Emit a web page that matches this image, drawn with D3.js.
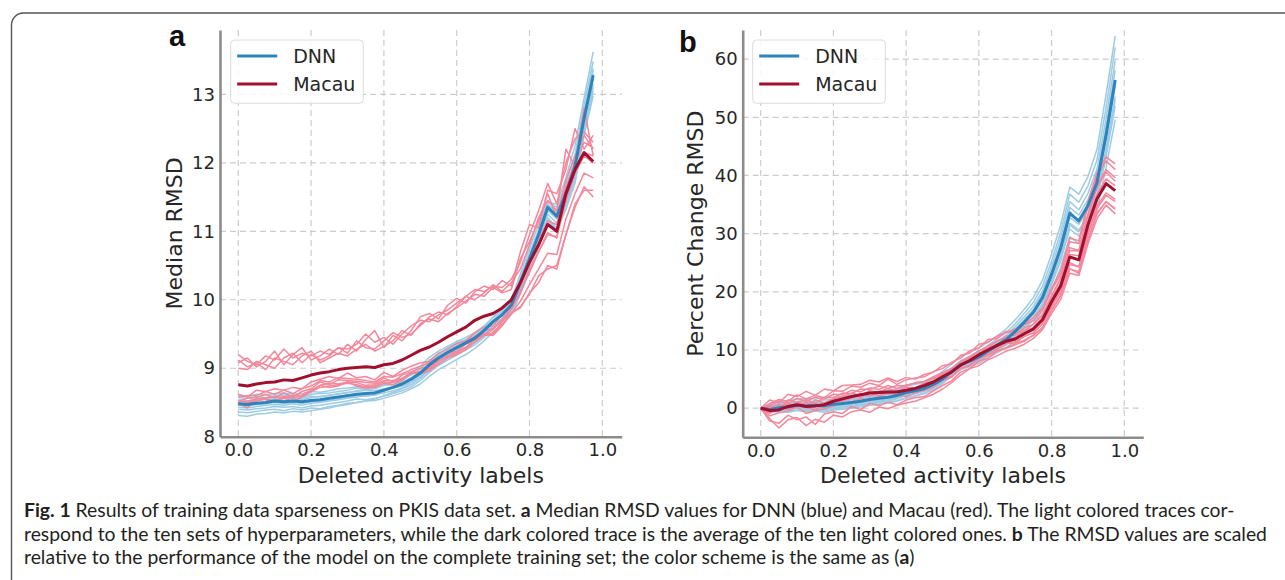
<!DOCTYPE html>
<html>
<head>
<meta charset="utf-8">
<script src="https://cdn.jsdelivr.net/npm/d3@7"></script>
<style>
  body { margin: 0; background: #fff; }
  svg { display: block; }
  .tick text { font-family: "DejaVu Sans", sans-serif; fill: #262626; }
</style>
</head>
<body>
<svg id="fig" width="1285" height="580"></svg>
<script>
// fraction of deleted activity labels (x values shared by every trace)
const fractions = [0, 0.025, 0.05, 0.075, 0.1, 0.125, 0.15, 0.175, 0.2, 0.225,
  0.25, 0.275, 0.3, 0.325, 0.35, 0.375, 0.4, 0.425, 0.45, 0.475,
  0.5, 0.525, 0.55, 0.575, 0.6, 0.625, 0.65, 0.675, 0.7, 0.725,
  0.75, 0.775, 0.8, 0.825, 0.85, 0.875, 0.9, 0.925, 0.95, 0.975];

// panel a: median RMSD
const rmsdDnnMean = [8.48, 8.47, 8.49, 8.50, 8.52, 8.51, 8.52, 8.51, 8.53, 8.54,
  8.56, 8.58, 8.60, 8.62, 8.63, 8.64, 8.68, 8.72, 8.77, 8.84,
  8.93, 9.05, 9.15, 9.23, 9.30, 9.37, 9.44, 9.55, 9.68, 9.78,
  9.92, 10.25, 10.60, 10.95, 11.35, 11.22, 11.55, 11.95, 12.65, 13.28];
const rmsdMacauMean = [8.76, 8.74, 8.77, 8.79, 8.80, 8.83, 8.82, 8.86, 8.90, 8.93,
  8.95, 8.98, 9.00, 9.01, 9.02, 9.01, 9.05, 9.07, 9.12, 9.19,
  9.26, 9.31, 9.38, 9.46, 9.53, 9.60, 9.70, 9.76, 9.80, 9.88,
  10.00, 10.25, 10.55, 10.80, 11.10, 11.00, 11.55, 11.90, 12.15, 12.02];

const rmsdDnnRuns = [
  [8.60, 8.58, 8.62, 8.61, 8.63, 8.64, 8.62, 8.63, 8.66, 8.65, 8.67, 8.70, 8.71, 8.73, 8.72, 8.74, 8.76, 8.79, 8.83, 8.90,
   8.99, 9.12, 9.20, 9.30, 9.37, 9.42, 9.50, 9.60, 9.75, 9.86, 10.00, 10.38, 10.75, 11.10, 11.42, 11.40, 11.78, 12.25, 12.95, 13.62],
  [8.57, 8.56, 8.59, 8.57, 8.60, 8.61, 8.60, 8.58, 8.62, 8.63, 8.64, 8.66, 8.68, 8.71, 8.70, 8.72, 8.75, 8.76, 8.80, 8.86,
   8.96, 9.08, 9.19, 9.25, 9.33, 9.41, 9.46, 9.58, 9.70, 9.82, 9.96, 10.32, 10.68, 11.02, 11.45, 11.35, 11.70, 12.12, 12.85, 13.48],
  [8.54, 8.52, 8.55, 8.57, 8.56, 8.58, 8.57, 8.56, 8.59, 8.58, 8.61, 8.62, 8.65, 8.66, 8.68, 8.67, 8.70, 8.71, 8.74, 8.80,
   8.90, 9.02, 9.12, 9.20, 9.28, 9.36, 9.42, 9.53, 9.66, 9.77, 9.93, 10.28, 10.66, 11.00, 11.38, 11.30, 11.62, 12.05, 12.75, 13.38],
  [8.52, 8.51, 8.53, 8.55, 8.54, 8.56, 8.55, 8.54, 8.57, 8.59, 8.60, 8.63, 8.64, 8.67, 8.69, 8.70, 8.75, 8.80, 8.86, 8.93,
   9.03, 9.16, 9.25, 9.32, 9.39, 9.45, 9.52, 9.62, 9.74, 9.84, 9.97, 10.26, 10.58, 10.92, 11.30, 11.18, 11.50, 11.90, 12.58, 13.22],
  [8.49, 8.48, 8.50, 8.49, 8.53, 8.52, 8.51, 8.52, 8.54, 8.53, 8.57, 8.58, 8.61, 8.60, 8.63, 8.65, 8.68, 8.73, 8.77, 8.85,
   8.92, 9.06, 9.16, 9.22, 9.31, 9.38, 9.45, 9.55, 9.69, 9.79, 9.92, 10.24, 10.61, 10.96, 11.33, 11.24, 11.56, 11.96, 12.66, 13.30],
  [8.46, 8.45, 8.47, 8.48, 8.50, 8.48, 8.50, 8.49, 8.51, 8.52, 8.53, 8.56, 8.57, 8.60, 8.59, 8.61, 8.64, 8.67, 8.71, 8.79,
   8.87, 8.99, 9.10, 9.17, 9.25, 9.31, 9.39, 9.50, 9.62, 9.73, 9.86, 10.18, 10.52, 10.86, 11.25, 11.12, 11.45, 11.85, 12.52, 13.15],
  [8.43, 8.42, 8.44, 8.46, 8.47, 8.46, 8.48, 8.46, 8.49, 8.50, 8.52, 8.54, 8.56, 8.58, 8.60, 8.61, 8.66, 8.72, 8.78, 8.86,
   8.95, 9.07, 9.17, 9.26, 9.33, 9.39, 9.47, 9.57, 9.70, 9.80, 9.94, 10.28, 10.64, 10.98, 11.40, 11.26, 11.60, 12.00, 12.72, 13.35],
  [8.40, 8.39, 8.41, 8.42, 8.44, 8.43, 8.44, 8.42, 8.45, 8.46, 8.48, 8.50, 8.52, 8.55, 8.54, 8.56, 8.59, 8.63, 8.67, 8.73,
   8.82, 8.94, 9.04, 9.12, 9.19, 9.27, 9.34, 9.45, 9.58, 9.68, 9.82, 10.12, 10.47, 10.81, 11.20, 11.05, 11.40, 11.80, 12.48, 13.10],
  [8.36, 8.35, 8.37, 8.39, 8.40, 8.38, 8.41, 8.39, 8.42, 8.41, 8.44, 8.46, 8.49, 8.50, 8.52, 8.53, 8.56, 8.60, 8.64, 8.70,
   8.77, 8.88, 8.98, 9.05, 9.13, 9.20, 9.29, 9.40, 9.53, 9.64, 9.78, 10.08, 10.42, 10.76, 11.15, 11.00, 11.35, 11.75, 12.42, 13.05],
  [8.31, 8.30, 8.33, 8.34, 8.36, 8.35, 8.37, 8.36, 8.38, 8.40, 8.42, 8.45, 8.47, 8.50, 8.52, 8.55, 8.60, 8.65, 8.70, 8.76,
   8.85, 8.97, 9.07, 9.15, 9.22, 9.30, 9.37, 9.48, 9.61, 9.72, 9.85, 10.15, 10.48, 10.82, 11.18, 11.02, 11.32, 11.70, 12.40, 12.98]
];

const rmsdMacauRuns = [
  [9.20, 9.10, 9.05, 9.18, 9.12, 9.28, 9.15, 9.22, 9.18, 9.25, 9.20, 9.30, 9.28, 9.35, 9.50, 9.38, 9.45, 9.35, 9.50, 9.62,
   9.70, 9.68, 9.78, 9.85, 9.95, 10.05, 10.15, 10.12, 10.20, 10.18, 10.30, 10.55, 10.95, 11.30, 11.70, 11.40, 12.00, 12.35, 12.45, 12.30],
  [9.08, 9.15, 9.02, 9.10, 9.25, 9.05, 9.20, 9.30, 9.12, 9.18, 9.28, 9.20, 9.35, 9.25, 9.42, 9.55, 9.30, 9.48, 9.40, 9.55,
   9.75, 9.80, 9.72, 9.92, 10.02, 9.95, 10.12, 10.20, 10.15, 10.28, 10.20, 10.70, 11.10, 11.05, 11.60, 11.55, 11.90, 12.50, 12.20, 12.40],
  [9.00, 8.98, 9.10, 9.05, 9.00, 9.15, 9.22, 9.08, 9.20, 9.12, 9.18, 9.30, 9.22, 9.40, 9.30, 9.28, 9.40, 9.52, 9.45, 9.50,
   9.62, 9.75, 9.82, 9.78, 9.90, 10.05, 10.00, 10.10, 10.22, 10.12, 10.25, 10.45, 10.80, 11.20, 11.45, 11.30, 12.20, 11.95, 12.80, 12.10],
  [9.12, 9.02, 9.08, 8.98, 9.15, 9.10, 9.05, 9.18, 9.25, 9.08, 9.15, 9.22, 9.18, 9.28, 9.35, 9.25, 9.32, 9.40, 9.55, 9.48,
   9.65, 9.72, 9.68, 9.80, 9.88, 9.98, 10.08, 10.05, 10.18, 10.10, 10.15, 10.60, 10.85, 11.15, 11.55, 11.20, 11.75, 12.10, 12.40, 12.20],
  [8.62, 8.58, 8.68, 8.66, 8.70, 8.68, 8.72, 8.70, 8.80, 8.84, 8.88, 8.85, 8.93, 8.86, 8.88, 8.83, 8.94, 8.88, 8.97, 9.03,
   9.08, 9.10, 9.22, 9.28, 9.36, 9.40, 9.52, 9.60, 9.62, 9.78, 9.95, 10.20, 10.55, 10.85, 11.15, 11.10, 11.65, 12.00, 12.30, 12.22],
  [8.58, 8.60, 8.60, 8.66, 8.62, 8.68, 8.63, 8.70, 8.74, 8.82, 8.80, 8.86, 8.85, 8.84, 8.82, 8.80, 8.88, 8.87, 8.92, 8.98,
   9.03, 9.08, 9.16, 9.24, 9.30, 9.38, 9.47, 9.55, 9.58, 9.70, 9.80, 9.88, 10.10, 10.25, 10.50, 10.45, 10.95, 11.35, 11.65, 11.50],
  [8.52, 8.56, 8.57, 8.62, 8.57, 8.64, 8.58, 8.66, 8.70, 8.80, 8.76, 8.83, 8.82, 8.81, 8.79, 8.78, 8.86, 8.80, 8.90, 8.95,
   9.00, 9.02, 9.12, 9.22, 9.25, 9.35, 9.42, 9.50, 9.56, 9.72, 9.88, 10.12, 10.40, 10.70, 10.95, 10.92, 11.45, 11.85, 12.10, 12.00],
  [8.50, 8.52, 8.55, 8.57, 8.58, 8.58, 8.60, 8.61, 8.68, 8.75, 8.78, 8.77, 8.80, 8.79, 8.75, 8.76, 8.82, 8.82, 8.85, 8.94,
   8.95, 9.00, 9.10, 9.18, 9.24, 9.30, 9.42, 9.48, 9.52, 9.64, 9.80, 9.98, 10.22, 10.45, 10.68, 10.66, 11.18, 11.55, 11.85, 11.78],
  [8.47, 8.50, 8.52, 8.55, 8.52, 8.58, 8.56, 8.60, 8.66, 8.72, 8.74, 8.76, 8.78, 8.76, 8.73, 8.74, 8.80, 8.79, 8.84, 8.92,
   8.94, 8.98, 9.10, 9.18, 9.22, 9.30, 9.42, 9.50, 9.50, 9.68, 9.86, 10.10, 10.45, 10.70, 10.98, 10.90, 11.50, 11.90, 12.15, 12.10],
  [8.49, 8.42, 8.56, 8.54, 8.51, 8.56, 8.52, 8.58, 8.66, 8.75, 8.72, 8.74, 8.80, 8.74, 8.71, 8.72, 8.78, 8.76, 8.82, 8.93,
   8.92, 8.96, 9.06, 9.15, 9.20, 9.27, 9.38, 9.48, 9.48, 9.62, 9.80, 9.90, 10.08, 10.35, 10.45, 10.50, 10.95, 11.40, 11.60, 11.60]
];

// panel b: percent change RMSD
const pctDnnMean = [0.0, -0.2, 0.1, 0.2, 0.5, 0.4, 0.5, 0.4, 0.7, 0.8,
  1.0, 1.2, 1.5, 1.7, 1.9, 2.2, 2.7, 3.0, 3.4, 4.1,
  5.0, 6.3, 7.5, 8.1, 8.8, 9.8, 10.8, 11.8, 13.2, 14.8,
  16.5, 19.0, 23.0, 27.5, 33.5, 32.2, 34.8, 38.8, 47.0, 56.4];
const pctMacauMean = [0.0, -0.4, -0.3, 0.3, 0.6, 0.3, 0.4, 0.6, 1.2, 1.6,
  2.0, 2.3, 2.6, 2.7, 2.8, 2.8, 3.1, 3.4, 3.9, 4.5,
  5.4, 6.2, 7.4, 8.2, 9.2, 10.0, 10.8, 11.5, 11.9, 12.8,
  13.6, 15.2, 18.3, 21.0, 26.0, 25.5, 31.5, 36.0, 38.6, 37.4];

const pctDnnRuns = [
  [0.0, 0.3, 0.8, 1.0, 1.2, 1.3, 1.1, 1.4, 1.5, 1.8, 1.9, 2.1, 2.5, 2.6, 3.0, 3.2, 3.8, 4.2, 4.6, 5.3,
   6.3, 7.6, 8.9, 9.6, 10.3, 11.4, 12.4, 13.6, 15.2, 17.0, 19.0, 22.0, 26.5, 31.5, 38.0, 36.8, 39.8, 44.5, 54.0, 64.0],
  [0.0, -0.5, -0.4, -0.3, 0.0, -0.2, -0.1, -0.3, 0.1, 0.2, 0.3, 0.6, 0.8, 1.1, 1.2, 1.6, 2.2, 2.6, 3.1, 4.0,
   5.2, 6.8, 8.2, 8.9, 9.7, 10.8, 11.9, 13.0, 14.5, 16.3, 18.2, 21.0, 25.3, 30.2, 36.8, 35.4, 38.2, 42.7, 51.7, 62.0],
  [0.0, 0.1, 0.5, 0.6, 0.9, 0.8, 0.9, 0.8, 1.1, 1.2, 1.4, 1.6, 1.9, 2.1, 2.3, 2.6, 3.1, 3.4, 3.8, 4.5,
   5.4, 6.7, 8.0, 8.6, 9.3, 10.4, 11.4, 12.5, 14.0, 15.7, 17.5, 20.1, 24.4, 29.2, 35.5, 34.1, 36.9, 41.1, 49.8, 59.8],
  [0.0, -0.7, -0.6, -0.7, -0.4, -0.6, -0.5, -0.7, -0.3, -0.2, 0.0, 0.2, 0.5, 0.7, 0.9, 1.2, 1.7, 2.1, 2.6, 3.5,
   4.7, 6.3, 7.7, 8.3, 9.0, 10.1, 11.1, 12.2, 13.6, 15.2, 17.0, 19.6, 23.7, 28.3, 34.5, 33.2, 35.8, 40.0, 48.4, 58.1],
  [0.0, 0.6, 1.2, 1.3, 1.6, 1.7, 1.6, 1.7, 1.9, 2.0, 2.2, 2.4, 2.7, 2.9, 3.1, 3.3, 3.8, 4.1, 4.4, 4.9,
   5.6, 6.7, 7.8, 8.3, 8.9, 9.9, 10.8, 11.8, 13.2, 14.8, 16.5, 18.6, 23.4, 27.0, 33.9, 31.8, 35.2, 38.4, 47.5, 56.0],
  [0.0, -0.4, -0.1, 0.0, 0.2, 0.1, 0.2, 0.1, 0.4, 0.5, 0.7, 0.9, 1.2, 1.4, 1.6, 1.9, 2.4, 2.7, 3.1, 3.8,
   4.8, 6.1, 7.3, 7.9, 8.6, 9.6, 10.6, 11.6, 12.9, 14.5, 16.2, 18.6, 22.5, 27.0, 32.8, 31.6, 34.1, 38.0, 46.1, 55.3],
  [0.0, 0.2, 0.7, 0.8, 1.1, 1.0, 1.1, 1.0, 1.3, 1.4, 1.6, 1.8, 2.1, 2.3, 2.5, 2.8, 3.2, 3.5, 3.9, 4.4,
   5.2, 6.3, 7.3, 7.8, 8.4, 9.3, 10.3, 11.2, 12.5, 14.1, 15.7, 18.0, 21.9, 26.1, 31.8, 30.6, 33.1, 36.9, 44.7, 53.6],
  [0.0, -0.6, -0.5, -0.5, -0.3, -0.4, -0.3, -0.5, -0.1, 0.0, 0.2, 0.4, 0.7, 0.9, 1.1, 1.3, 1.8, 2.1, 2.5, 3.2,
   4.2, 5.5, 6.7, 7.3, 8.0, 9.0, 9.9, 10.9, 12.1, 13.6, 15.2, 17.5, 21.2, 25.3, 30.8, 29.6, 32.0, 35.7, 43.2, 51.9],
  [0.0, -0.1, 0.3, 0.3, 0.6, 0.5, 0.6, 0.5, 0.8, 0.9, 1.1, 1.2, 1.5, 1.6, 1.8, 2.0, 2.4, 2.6, 3.0, 3.6,
   4.4, 5.5, 6.6, 7.1, 7.7, 8.6, 9.5, 10.4, 11.6, 13.0, 14.5, 16.7, 20.2, 24.2, 29.5, 28.3, 30.6, 34.1, 41.4, 49.6],
  [0.0, -0.3, -0.2, -0.2, 0.1, -0.1, 0.0, -0.2, 0.2, 0.3, 0.5, 0.7, 1.0, 1.2, 1.4, 1.7, 2.2, 2.5, 2.9, 3.6,
   4.5, 5.8, 7.0, 7.6, 8.2, 9.2, 10.1, 11.1, 12.4, 13.9, 15.5, 17.9, 21.6, 25.9, 31.5, 30.3, 32.7, 36.5, 44.2, 53.0]
];

const pctMacauRuns = [
  [0.0, 0.8, 1.5, 1.2, 2.3, 1.6, 2.2, 1.8, 3.0, 2.9, 3.8, 3.6, 4.3, 3.9, 5.0, 4.1, 4.9, 5.2, 5.4, 6.3,
   6.8, 7.9, 8.6, 9.9, 10.4, 11.8, 12.0, 13.2, 13.0, 14.4, 15.0, 16.9, 20.3, 23.0, 28.6, 28.3, 34.8, 39.9, 42.5, 41.0],
  [0.0, -2.2, -2.6, -1.2, -2.0, -1.5, -2.8, -1.0, -0.6, -0.9, 0.3, -0.2, 0.8, 0.4, 1.0, 0.6, 1.4, 1.8, 2.0, 3.0,
   3.9, 4.7, 6.2, 6.8, 8.1, 8.6, 9.8, 10.3, 10.9, 11.5, 12.6, 13.8, 16.8, 19.4, 24.0, 23.2, 28.8, 33.4, 35.5, 34.2],
  [0.0, 0.4, -0.2, 1.4, 1.0, 1.5, 0.8, 1.9, 1.8, 2.6, 2.5, 3.3, 3.2, 3.8, 3.4, 3.9, 3.8, 4.4, 4.6, 5.4,
   6.1, 6.9, 8.0, 8.9, 9.9, 10.3, 11.6, 12.0, 12.8, 13.3, 14.5, 16.0, 19.1, 22.3, 27.1, 27.0, 33.0, 37.9, 40.6, 39.0],
  [0.0, -1.3, -0.8, -0.5, 0.2, -0.9, -0.4, -0.1, 0.4, 0.9, 1.1, 1.6, 1.5, 2.0, 1.9, 2.2, 2.0, 2.6, 3.1, 3.6,
   4.8, 5.3, 6.9, 7.4, 8.7, 9.3, 10.2, 11.1, 11.2, 12.4, 12.9, 14.6, 17.5, 20.3, 25.0, 24.3, 30.1, 34.8, 37.0, 35.9],
  [0.0, 1.4, 0.9, 2.4, 2.0, 2.9, 2.2, 3.3, 3.0, 3.9, 4.0, 4.1, 4.8, 4.5, 5.2, 4.6, 5.3, 5.0, 5.8, 6.2,
   7.3, 7.6, 9.1, 9.5, 11.0, 11.3, 12.4, 13.0, 13.6, 14.4, 15.6, 17.2, 20.6, 23.6, 29.2, 28.8, 35.5, 40.5, 43.2, 42.0],
  [0.0, -1.8, -3.4, -2.0, -1.6, -3.0, -1.9, -2.4, -1.2, -1.5, -0.6, -0.3, -0.7, 0.2, -0.1, 0.5, 0.9, 1.2, 1.8, 2.4,
   3.3, 4.4, 5.7, 6.8, 7.3, 8.3, 9.0, 9.8, 10.3, 11.0, 12.0, 13.5, 16.3, 18.7, 23.2, 22.8, 28.2, 32.6, 34.9, 33.4],
  [0.0, 0.2, 0.6, 0.1, 1.1, 0.5, 1.4, 0.9, 1.6, 2.0, 2.6, 2.2, 3.0, 2.8, 3.4, 2.9, 3.6, 3.5, 4.3, 4.6,
   5.8, 6.3, 7.6, 8.6, 9.3, 10.4, 10.7, 12.0, 12.1, 13.2, 13.9, 15.6, 18.6, 21.5, 26.4, 26.2, 32.1, 36.7, 39.4, 38.2],
  [0.0, 0.5, 1.2, 0.8, 1.7, 1.2, 1.9, 1.6, 2.4, 2.3, 3.1, 2.8, 3.5, 3.2, 3.9, 3.4, 4.0, 4.3, 4.6, 5.1,
   5.9, 6.6, 7.7, 8.3, 9.2, 9.9, 10.5, 11.2, 11.4, 12.3, 13.0, 14.5, 17.4, 20.0, 24.7, 24.3, 29.9, 34.3, 36.6, 35.5],
  [0.0, -0.6, 0.2, -0.2, 0.5, 0.1, -0.3, 0.7, 1.1, 1.3, 1.7, 2.4, 2.1, 2.6, 2.4, 3.0, 2.9, 3.3, 3.8, 4.5,
   5.6, 6.8, 7.6, 8.7, 9.8, 10.7, 11.5, 12.4, 12.6, 13.8, 14.4, 16.1, 19.4, 22.3, 27.6, 27.1, 33.4, 38.3, 41.0, 39.6],
  [0.0, -0.9, 0.1, 0.8, 0.3, 1.0, 0.4, 0.9, 1.5, 1.2, 2.1, 1.9, 2.6, 2.1, 2.7, 2.3, 2.8, 2.9, 3.4, 4.0,
   4.8, 5.5, 6.8, 7.3, 8.5, 9.1, 9.9, 10.4, 11.1, 11.7, 12.5, 13.9, 16.8, 19.3, 23.9, 23.5, 29.0, 33.6, 35.5, 34.3]
];

const xTicks = [0, 0.2, 0.4, 0.6, 0.8, 1.0];
const rmsdTicks = [8, 9, 10, 11, 12, 13];
const pctTicks = [0, 10, 20, 30, 40, 50, 60];
const seriesNames = ["DNN", "Macau"];

const palette = {
  DNN: { dark: "#2d83bb", light: "#9dcbe3" },
  Macau: { dark: "#a10f2e", light: "#f4879b" }
};

const svg = d3.select("#fig");

// figure frame (rounded top-left corner, open on the right)
svg.append("path")
  .attr("d", "M11.5,580 V25 A12,12 0 0 1 23.5,13 H1285")
  .attr("fill", "none")
  .attr("stroke", "#555")
  .attr("stroke-width", 1.4);

function drawPanel(p) {
  const x = d3.scaleLinear().domain(p.xDomain).range([p.left, p.right]);
  const y = d3.scaleLinear().domain(p.yDomain).range([p.bottom, p.top]);
  const g = svg.append("g");

  // dashed grid
  const grid = g.append("g")
    .attr("stroke", "#cccccc")
    .attr("stroke-width", 1.2)
    .attr("stroke-dasharray", "6,4");
  grid.selectAll(".vx").data(xTicks).join("line")
    .attr("x1", d => x(d)).attr("x2", d => x(d))
    .attr("y1", p.top).attr("y2", p.bottom);
  grid.selectAll(".hy").data(p.yTicks).join("line")
    .attr("x1", p.left).attr("x2", p.right)
    .attr("y1", d => y(d)).attr("y2", d => y(d));

  const line = d3.line()
    .x((d, i) => x(fractions[i]))
    .y(d => y(d));

  // light traces: one per hyperparameter set
  p.runs.forEach((runs, k) => {
    const name = seriesNames[k];
    g.append("g").selectAll("path").data(runs).join("path")
      .attr("d", line)
      .attr("fill", "none")
      .attr("stroke", palette[name].light)
      .attr("stroke-width", 1.5)
      .attr("stroke-linejoin", "round");
  });
  // dark traces: averages
  p.means.forEach((mean, k) => {
    const name = seriesNames[k];
    g.append("path")
      .attr("d", line(mean))
      .attr("fill", "none")
      .attr("stroke", palette[name].dark)
      .attr("stroke-width", 3)
      .attr("stroke-linejoin", "round");
  });

  // axes (left and bottom spines only)
  const xAxis = d3.axisBottom(x).tickValues(xTicks)
    .tickFormat(d3.format(".1f")).tickSize(0).tickSizeOuter(0).tickPadding(7);
  const yAxis = d3.axisLeft(y).tickValues(p.yTicks)
    .tickFormat(d3.format("d")).tickSize(0).tickSizeOuter(0).tickPadding(5);

  const gx = g.append("g").attr("transform", `translate(0,${p.bottom})`).call(xAxis);
  const gy = g.append("g").attr("transform", `translate(${p.left},0)`).call(yAxis);
  [gx, gy].forEach(a => {
    a.select(".domain").attr("stroke", "#8c8c8c").attr("stroke-width", 2.6);
    a.selectAll(".tick text").attr("font-size", 18);
  });

  // axis titles
  g.append("text")
    .attr("x", (p.left + p.right) / 2)
    .attr("y", 483)
    .attr("text-anchor", "middle")
    .attr("font-family", "DejaVu Sans, sans-serif")
    .attr("font-size", 22)
    .attr("fill", "#262626")
    .text("Deleted activity labels");
  g.append("text")
    .attr("transform", `translate(${p.yLabelX},${(p.top + p.bottom) / 2}) rotate(-90)`)
    .attr("text-anchor", "middle")
    .attr("font-family", "DejaVu Sans, sans-serif")
    .attr("font-size", 22)
    .attr("fill", "#262626")
    .text(p.yLabel);

  // panel letter
  g.append("text")
    .attr("x", p.letterX)
    .attr("y", p.letterY)
    .attr("font-family", "Liberation Sans, Arial, sans-serif")
    .attr("font-weight", "bold")
    .attr("font-size", 29)
    .attr("fill", "#111")
    .text(p.letter);

  // legend
  const lg = g.append("g").attr("transform", `translate(${p.legendX},40)`);
  lg.append("rect")
    .attr("width", 132.6).attr("height", 63.3).attr("rx", 4)
    .attr("fill", "#fff").attr("fill-opacity", 0.85)
    .attr("stroke", "#dcdcdc").attr("stroke-width", 1);
  seriesNames.forEach((name, i) => {
    const yy = 16 + i * 28;
    lg.append("line")
      .attr("x1", 6.5).attr("x2", 46.5)
      .attr("y1", yy).attr("y2", yy)
      .attr("stroke", palette[name].dark)
      .attr("stroke-width", 3);
    lg.append("text")
      .attr("x", 62.5).attr("y", yy + 7)
      .attr("font-family", "DejaVu Sans, sans-serif")
      .attr("font-size", 19)
      .attr("fill", "#262626")
      .text(name);
  });
}

drawPanel({
  left: 220, right: 621.7, top: 30, bottom: 436.7,
  xDomain: [-0.0503, 1.0533], yDomain: [8, 13.94], yTicks: rmsdTicks,
  runs: [rmsdDnnRuns, rmsdMacauRuns], means: [rmsdDnnMean, rmsdMacauMean],
  yLabel: "Median RMSD", yLabelX: 182,
  letter: "a", letterX: 169, letterY: 46, legendX: 230.7
});
drawPanel({
  left: 742.7, right: 1143.3, top: 30, bottom: 437.3,
  xDomain: [-0.0495, 1.0523], yDomain: [-5, 65], yTicks: pctTicks,
  runs: [pctDnnRuns, pctMacauRuns], means: [pctDnnMean, pctMacauMean],
  yLabel: "Percent Change RMSD", yLabelX: 703,
  letter: "b", letterX: 679, letterY: 52, legendX: 752.7
});

// caption
const captionLines = [
  [["Fig. 1", true], ["  Results of training data sparseness on PKIS data set. ", false], ["a", true],
   [" Median RMSD values for DNN (blue) and Macau (red). The light colored traces cor-", false]],
  [["respond to the ten sets of hyperparameters, while the dark colored trace is the average of the ten light colored ones. ", false],
   ["b", true], [" The RMSD values are scaled", false]],
  [["relative to the performance of the model on the complete training set; the color scheme is the same as (", false],
   ["a", true], [")", false]]
];
const captionY = [517, 540.5, 564];
const cap = svg.append("g")
  .attr("font-family", "Lato, 'Open Sans', sans-serif")
  .attr("fill", "#231f20")
  .style("white-space", "pre");
const capTexts = captionLines.map((parts, i) => {
  const t = cap.append("text").attr("x", 24).attr("y", captionY[i]).attr("font-size", 15);
  parts.forEach(([str, bold]) => {
    t.append("tspan").attr("font-weight", bold ? "bold" : null).text(str);
  });
  return t;
});
// size the caption so the second line spans the frame width
const w2 = capTexts[1].node().getComputedTextLength();
const fs = 15 * (1243 / w2);
capTexts.forEach(t => t.attr("font-size", fs));
</script>
</body>
</html>
